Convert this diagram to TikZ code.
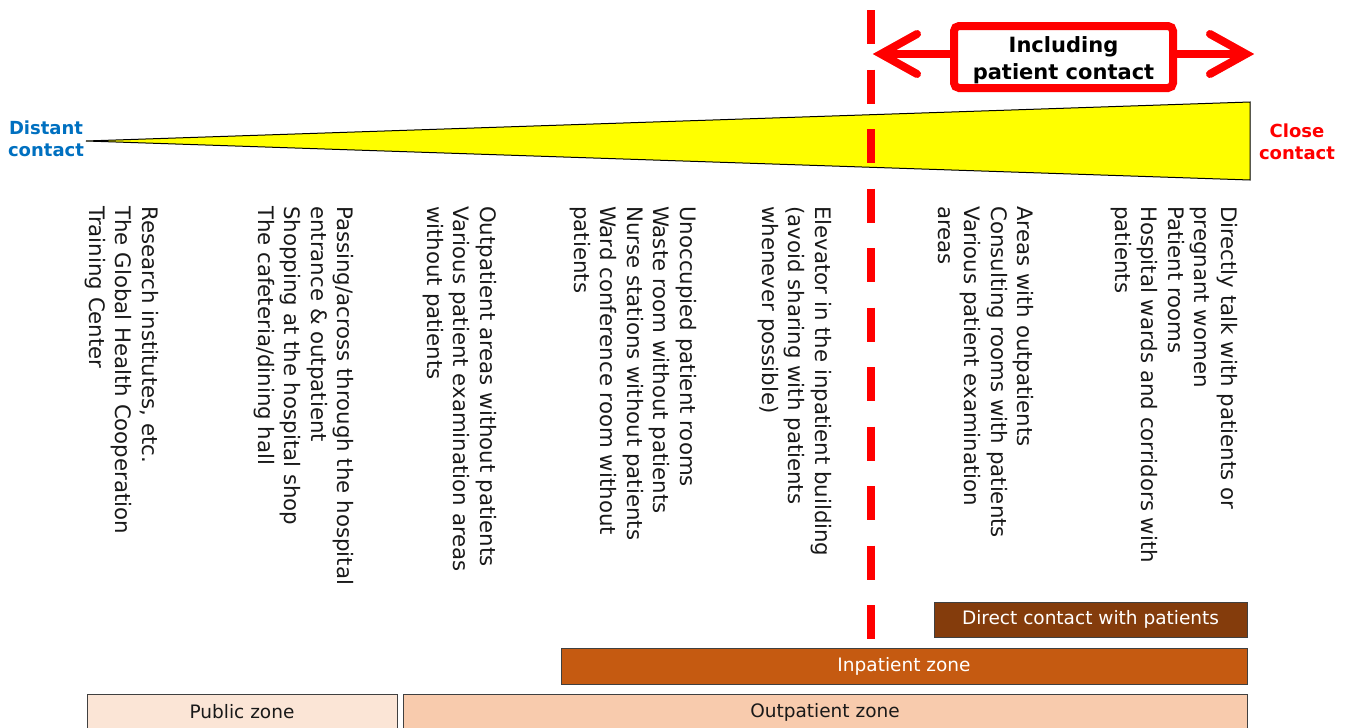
\documentclass[tikz,border=0pt]{standalone}
\usepackage{fontspec}
\setmainfont{DejaVu Sans}
\definecolor{cblue}{RGB}{0,112,192}
\definecolor{cred}{RGB}{255,0,0}
\definecolor{cdirect}{RGB}{132,60,12}
\definecolor{cinpat}{RGB}{197,90,17}
\definecolor{cpublic}{RGB}{251,229,214}
\definecolor{coutpat}{RGB}{248,203,173}
\definecolor{cyel}{RGB}{255,255,0}
\tikzset{
  vtext/.style={rotate=-90, anchor=base west, inner sep=0pt, align=left,
    font=\fontsize{21.3}{26.5}\selectfont, text=black!90},
  zonebox/.style={draw=black!75, line width=0.8pt, inner sep=0pt,
    font=\fontsize{18.5}{22}\selectfont},
  redline/.style={draw=cred, line width=8pt},
  endlabel/.style={align=center, inner sep=0pt, font=\bfseries\fontsize{18}{22.5}\selectfont},
}
\begin{document}
\begin{tikzpicture}[x=1pt, y=-1pt]
\useasboundingbox (0,0) rectangle (1350,728);
\clip (0,0) rectangle (1350,728);
% wedge
\coordinate (wtip) at (86,141);
\coordinate (wtop) at (1250,102);
\coordinate (wbot) at (1250,180);
\draw[fill=cyel, draw=black, line width=1pt, line join=miter] (wtip) -- (wtop) -- (wbot) -- cycle;
% end labels
\node[endlabel, text=cblue] (distant) at (46,139) {Distant\\contact};
\node[endlabel, text=cred] (close) at (1297,142) {Close\\contact};
% dashed boundary
\coordinate (dtop) at (871,10);
\coordinate (dbot) at (871,640);
\draw[redline, dash pattern=on 34pt off 25.5pt] (dtop) -- (dbot);
% including patient contact
\node[draw=cred, line width=8pt, fill=white, rounded corners=5pt, minimum width=219pt, minimum height=62pt,
  inner sep=0pt, align=center, text height=50pt, font=\bfseries\fontsize{21}{27}\selectfont] (inc) at (1063.5,57)
  {Including\\patient contact};
\coordinate (al) at (881,54);
\coordinate (ar) at (1246,54);
\draw[redline] (al) -- (inc.west |- al);
\draw[redline] (inc.east |- ar) -- (ar);
\draw[redline, line cap=round, line join=miter] ([shift={(36,-20)}]al) -- (al) -- ([shift={(36,20)}]al);
\draw[redline, line cap=round, line join=miter] ([shift={(-36,-20)}]ar) -- (ar) -- ([shift={(-36,20)}]ar);
% vertical texts (anchor = baseline of the last line)
\node[vtext] (c1) at (89,206) {Research institutes, etc.\\The Global Health Cooperation\\Training Center};
\node[vtext] (c2) at (258,206) {Passing/across through the hospital\\entrance \& outpatient\\Shopping at the hospital shop\\The cafeteria/dining hall};
\node[vtext] (c3) at (427,206) {Outpatient areas without patients\\Various patient examination areas\\without patients};
\node[vtext] (c4) at (574,206) {Unoccupied patient rooms\\Waste room without patients\\Nurse stations without patients\\Ward conference room without\\patients};
\node[vtext] (c5) at (762,206) {Elevator in the inpatient building\\(avoid sharing with patients\\whenever possible)};
\node[vtext] (c6) at (938,206) {Areas with outpatients\\Consulting rooms with patients\\Various patient examination\\areas};
\node[vtext] (c7) at (1115,206) {Directly talk with patients or\\pregnant women\\Patient rooms\\Hospital wards and corridors with\\patients};
% zone boxes
\node[zonebox, fill=cdirect, text=white, minimum width=313pt, minimum height=35pt] (direct) at (1090.5,619.5) {Direct contact with patients};
\node[zonebox, fill=cinpat, text=white, minimum width=686pt, minimum height=36pt] (inpat) at (904,666) {Inpatient zone};
\node[zonebox, fill=cpublic, text=black!90, minimum width=310pt, minimum height=36pt] (public) at (242,712) {Public zone};
\node[zonebox, fill=coutpat, text=black!90, minimum width=844pt, minimum height=36pt] (outpat) at (825,712) {Outpatient zone};
\end{tikzpicture}
\end{document}
